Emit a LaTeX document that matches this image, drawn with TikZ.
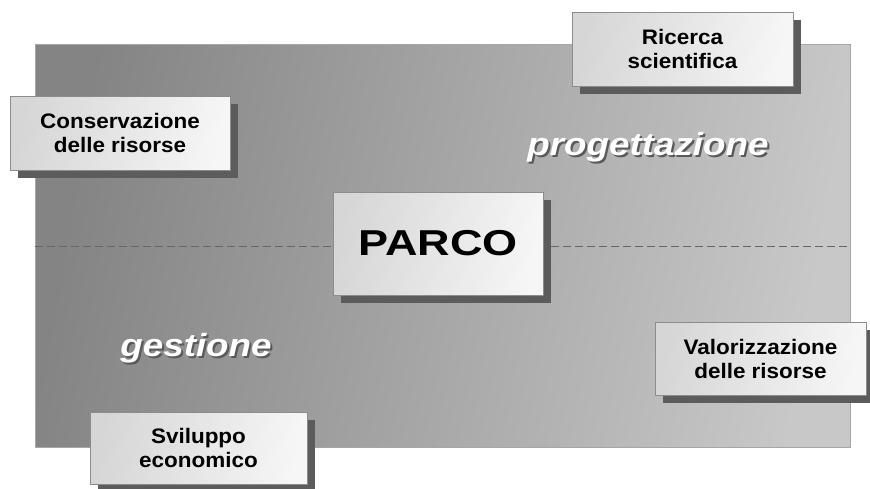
\documentclass[tikz,border=0pt]{standalone}
\usepackage{fontspec}
\setmainfont{Liberation Sans}
\newfontfamily\boxfont[FakeStretch=1.07]{Liberation Sans}
\newfontfamily\parcofont[FakeStretch=1.25]{Liberation Sans}
\newfontfamily\areafont[FakeStretch=1.15]{Liberation Sans}
\usetikzlibrary{shadows}

\definecolor{bgdark}{HTML}{848484}
\definecolor{bglight}{HTML}{C8C8C8}
\definecolor{boxdark}{HTML}{D6D6D6}
\definecolor{boxlight}{HTML}{F6F6F6}
\definecolor{shadowgray}{HTML}{5C5C5C}

\tikzset{
  themebox/.style={rectangle, draw=black!45, line width=0.8pt,
    left color=boxdark, right color=boxlight, shading angle=80,
    drop shadow={shadow xshift=8pt, shadow yshift=-8pt, fill=shadowgray, opacity=1},
    align=center, inner sep=0pt},
  smalltext/.style={font=\boxfont\bfseries\fontsize{21}{24}\selectfont},
  areatext/.style={font=\areafont\bfseries\itshape\fontsize{32}{36}\selectfont},
}

\begin{document}
\begin{tikzpicture}[x=1pt, y=-1pt]

        \useasboundingbox (0,0) rectangle (870,488);

        % 背景
        \coordinate (bgnw) at (35,44);
        \coordinate (bgse) at (850,447);
        \shade[left color=bgdark, right color=bglight, shading angle=80] (bgnw) rectangle (bgse);
        \draw[black!35, line width=1pt] (bgnw) rectangle (bgse);

        % 中央の破線
        \coordinate (midw) at (35,246);
        \coordinate (mide) at (850,246);
        \draw[black!60, line width=0.9pt, dash pattern=on 8pt off 4pt] (midw) -- (mide);

        % 領域のラベル（影付き白文字）
        \node[areatext, text=black!65] (progshadow) at (650,149) {progettazione};
        \node[areatext, text=white] (prog) at (648,147) {progettazione};
        \node[areatext, text=black!65] (gestshadow) at (198,350) {gestione};
        \node[areatext, text=white] (gest) at (196,348) {gestione};

        % 中央のボックス
        \node[themebox, minimum width=210pt, minimum height=103pt,
              font=\parcofont\bfseries\fontsize{36}{40}\selectfont] (parco) at (438,243.5) {PARCO};

        % 周りのボックス
        \node[themebox, smalltext, minimum width=220pt, minimum height=74pt] (cons) at (120,133)
            {Conservazione\\delle risorse};
        \node[themebox, smalltext, minimum width=221pt, minimum height=74pt] (ricerca) at (682.5,49)
            {Ricerca\\scientifica};
        \node[themebox, smalltext, minimum width=211pt, minimum height=73pt] (valor) at (760.5,358.5)
            {Valorizzazione\\delle risorse};
        \node[themebox, smalltext, minimum width=217pt, minimum height=72pt] (svil) at (198.5,448)
            {Sviluppo\\economico};

    \end{tikzpicture}
\end{document}
